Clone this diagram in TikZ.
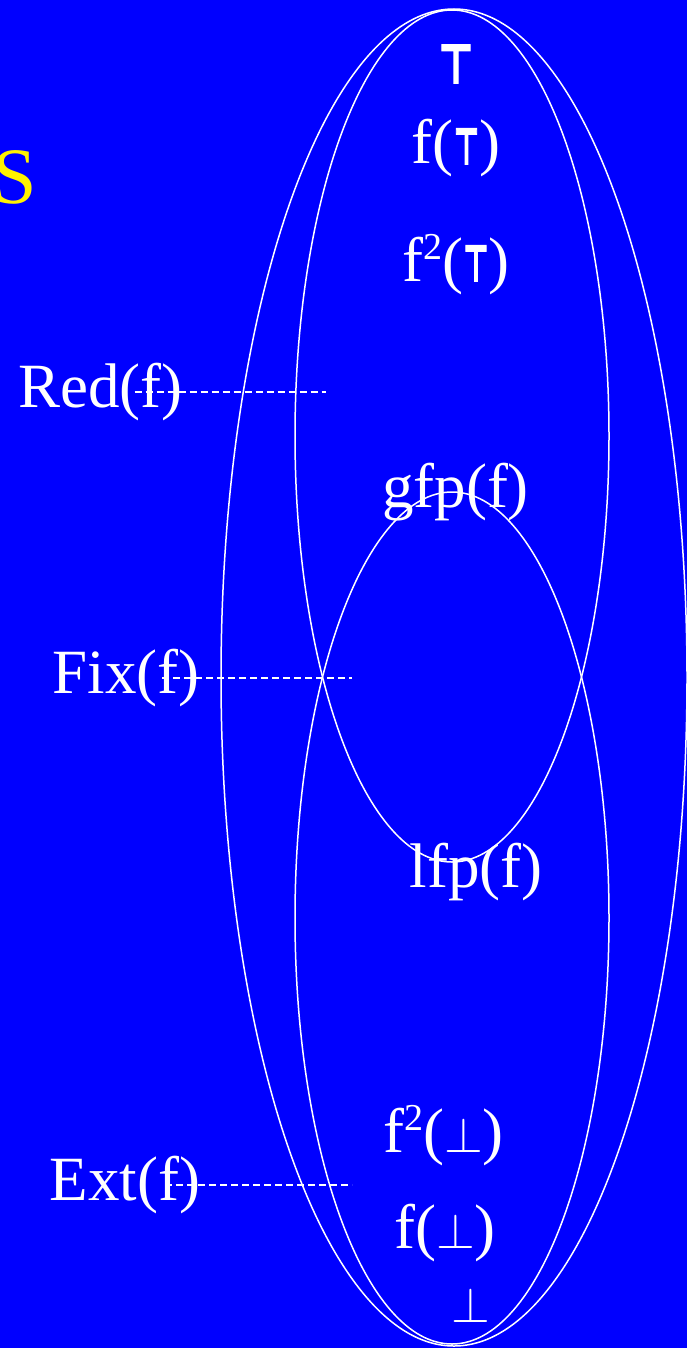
\documentclass[tikz,border=0pt]{standalone}
\usepackage{fontspec}
\setmainfont{Liberation Serif}
\newfontfamily\tackfont{DejaVu Sans Bold}[FakeBold=3]
\newcommand\tacktop[2]{{\fontsize{#1}{#1}\tackfont\scalebox{#2}[1]{⊤}}}
\newcommand\tackbot[1]{{\fontsize{#1}{#1}\selectfont$\perp$}}
\newcommand\sq{\raisebox{11pt}{\fontsize{19}{19}\selectfont 2}}
\begin{document}
\begin{tikzpicture}[x=0.5pt,y=-0.5pt,
  lbl/.style={text=white,font=\fontsize{31.5}{36}\selectfont,inner sep=0pt,anchor=base},
  ring/.style={draw=white,line width=0.75pt},
  guide/.style={draw=white,line width=1pt,dash pattern=on 3.5pt off 2pt}]
\fill[blue] (0,0) rectangle (687,1348);
\useasboundingbox (0,0) rectangle (687,1348);
% ellipses
\draw[ring] (454,677.5) ellipse [x radius=116.5pt, y radius=334.25pt];
\draw[ring] (452,436) ellipse [x radius=78.5pt, y radius=213pt];
\draw[ring] (452,918) ellipse [x radius=78.5pt, y radius=213pt];
% title fragments cut by the edge
\node[lbl,text=yellow,font=\fontsize{40}{44}\selectfont,anchor=base east] (s) at (37,204) {S};
\node[lbl,anchor=base east] (p1) at (3,1013) {)};
\node[lbl,anchor=base east] (p2) at (3,1098) {)};
% labels inside
\node[lbl] (top) at (456,83) {\tacktop{27}{0.7}};
\node[lbl] (ft) at (456,164) {f(\tacktop{25}{0.55})};
\node[lbl] (f2t) at (456,281) {f\sq(\tacktop{25}{0.55})};
\node[lbl] (gfp) at (455.5,507) {gfp(f)};
\node[lbl] (lfp) at (476,887) {lfp(f)};
\node[lbl] (f2b) at (443.5,1152) {f\sq(\tackbot{23.5})};
\node[lbl] (fb) at (445,1248) {f(\tackbot{23.5})};
\node[lbl] (bot) at (471,1322) {\tackbot{23.5}};
% set labels
\node[lbl] (red) at (100.5,407) {Red(f)};
\node[lbl] (fix) at (126,693) {Fix(f)};
\node[lbl] (ext) at (125,1200) {Ext(f)};
\coordinate (rede) at (326,390);
\coordinate (fixe) at (352,676);
\coordinate (exte) at (352,1183);
\draw[guide,shorten <=17pt] (red.center) -- (red.center -| rede);
\draw[guide,shorten <=18pt] (fix.center) -- (fix.center -| fixe);
\draw[guide,shorten <=20pt] (ext.center) -- (ext.center -| exte);
\end{tikzpicture}
\end{document}
